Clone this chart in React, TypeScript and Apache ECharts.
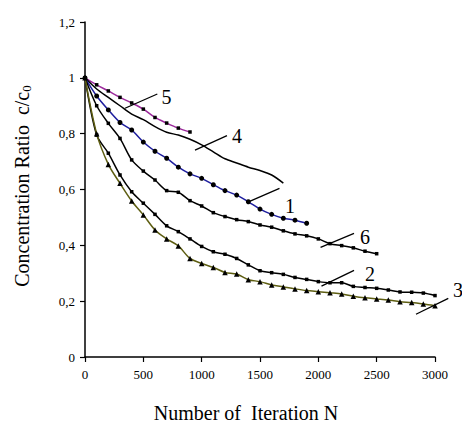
import React, { useEffect, useRef } from "react";
import * as echarts from "echarts";

const ITERATIONS = Array.from({ length: 31 }, (_, i) => i * 100);

const SERIES_1 = [1.0, 0.935, 0.885, 0.84, 0.813, 0.77, 0.737, 0.712, 0.68, 0.656, 0.64, 0.617, 0.596, 0.58, 0.556, 0.53, 0.511, 0.497, 0.49, 0.479];
const SERIES_2 = [1.0, 0.795, 0.73, 0.652, 0.592, 0.551, 0.511, 0.47, 0.449, 0.423, 0.396, 0.377, 0.368, 0.353, 0.33, 0.309, 0.302, 0.296, 0.285, 0.278, 0.27, 0.266, 0.266, 0.253, 0.249, 0.246, 0.24, 0.233, 0.232, 0.229, 0.22];
const SERIES_3 = [1.0, 0.8, 0.69, 0.622, 0.559, 0.509, 0.455, 0.423, 0.398, 0.353, 0.335, 0.321, 0.303, 0.297, 0.277, 0.27, 0.258, 0.251, 0.244, 0.238, 0.234, 0.23, 0.226, 0.218, 0.212, 0.208, 0.204, 0.198, 0.195, 0.19, 0.184];
const SERIES_4 = [1.0, 0.96, 0.93, 0.9, 0.87, 0.85, 0.825, 0.805, 0.795, 0.78, 0.76, 0.735, 0.71, 0.695, 0.68, 0.668, 0.652, 0.623];
const SERIES_5 = [1.0, 0.975, 0.953, 0.93, 0.91, 0.888, 0.858, 0.838, 0.82, 0.806];
const SERIES_6 = [1.0, 0.9, 0.837, 0.783, 0.706, 0.666, 0.634, 0.596, 0.59, 0.56, 0.541, 0.517, 0.503, 0.492, 0.485, 0.473, 0.465, 0.452, 0.441, 0.434, 0.423, 0.406, 0.399, 0.391, 0.379, 0.37];

// curve labels: [label, lineFrom [N, c], lineTo [N, c], textAt [N, c]]
const LABELS: [string, number[], number[], number[]][] = [
  ["5", [343, 0.891], [620, 0.942], [698, 0.93]],
  ["4", [943, 0.741], [1217, 0.793], [1303, 0.792]],
  ["1", [1401, 0.556], [1667, 0.604], [1757, 0.541]],
  ["6", [2019, 0.393], [2306, 0.443], [2400, 0.431]],
  ["2", [2027, 0.254], [2306, 0.31], [2443, 0.296]],
  ["3", [2837, 0.153], [3114, 0.21], [3197, 0.24]],
];

const FONT = "Liberation Serif";

const pairs = (vals: number[]) => vals.map((v, i) => [ITERATIONS[i], v]);

export default function App() {
  const ref = useRef<HTMLDivElement>(null);
  useEffect(() => {
    if (!ref.current) return;
    const chart = echarts.init(ref.current, null, { renderer: "svg" });
    const lineSeries = (
      name: string,
      vals: number[],
      color: string,
      symbol: string,
      size: number,
      show = true
    ) => ({
      name,
      type: "line",
      data: pairs(vals),
      smooth: 0.3,
      showSymbol: show,
      symbol,
      symbolSize: size,
      lineStyle: { color, width: 1.5 },
      itemStyle: { color: "#000" },
      clip: false,
      z: 3,
    });
    chart.setOption({
      animation: false,
      backgroundColor: "#fff",
      textStyle: { fontFamily: FONT },
      grid: { left: 85, right: 27, top: 22, bottom: 66 },
      xAxis: {
        type: "value",
        min: 0,
        max: 3000,
        interval: 500,
        axisLine: { lineStyle: { color: "#000", width: 1.5 } },
        axisTick: { show: true, length: 5, lineStyle: { color: "#000", width: 1.2 } },
        axisLabel: {
          color: "#000",
          fontFamily: FONT,
          fontSize: 13,
          margin: 11,
          formatter: (v: number) => String(v),
        },
        splitLine: { show: false },
      },
      yAxis: {
        type: "value",
        min: 0,
        max: 1.2,
        interval: 0.2,
        axisLine: { show: true, lineStyle: { color: "#000", width: 1.5 } },
        axisTick: { show: true, length: 5, lineStyle: { color: "#000", width: 1.2 } },
        axisLabel: {
          color: "#000",
          fontFamily: FONT,
          fontSize: 13,
          margin: 10,
          formatter: (v: number) => String(Math.round(v * 10) / 10).replace(".", ","),
        },
        splitLine: { show: false },
      },
      series: [
        lineSeries("5", SERIES_5, "#9c2a9c", "rect", 3.5),
        lineSeries("4", SERIES_4, "#000", "rect", 2, false),
        lineSeries("1", SERIES_1, "#1e1e9e", "circle", 5),
        lineSeries("6", SERIES_6, "#000", "rect", 3.5),
        lineSeries("2", SERIES_2, "#000", "rect", 3.5),
        lineSeries("3", SERIES_3, "#5e5e12", "triangle", 5.5),
      ],
    });
    const px = (p: number[]) => chart.convertToPixel({ gridIndex: 0 }, p) as number[];
    const graphics: any[] = [];
    LABELS.forEach(([label, a, b, t]) => {
      const pa = px(a);
      const pb = px(b);
      const pt = px(t);
      graphics.push({
        type: "line",
        shape: { x1: pa[0], y1: pa[1], x2: pb[0], y2: pb[1] },
        style: { stroke: "#000", lineWidth: 1.3 },
        z: 10,
      });
      graphics.push({
        type: "text",
        x: pt[0],
        y: pt[1],
        style: {
          text: label,
          fontFamily: FONT,
          fontSize: 20,
          fill: "#000",
          align: "center",
          verticalAlign: "middle",
        },
        z: 10,
      });
    });
    graphics.push({
      type: "text",
      x: 246,
      y: 413,
      style: {
        text: "Number of  Iteration N",
        fontFamily: FONT,
        fontSize: 20,
        fill: "#000",
        align: "center",
        verticalAlign: "middle",
      },
    });
    graphics.push({
      type: "text",
      x: 22,
      y: 186,
      rotation: Math.PI / 2,
      style: {
        text: "{a|Concentration Ratio  c/c}{s|0}",
        fontFamily: FONT,
        fill: "#000",
        align: "center",
        verticalAlign: "middle",
        rich: {
          a: { fontFamily: FONT, fontSize: 20, fill: "#000", lineHeight: 23 },
          s: { fontFamily: FONT, fontSize: 13, fill: "#000", lineHeight: 23, padding: [9, 0, 0, 0] },
        },
      },
    });
    chart.setOption({ graphic: graphics });
    return () => chart.dispose();
  }, []);
  return (
    <div
      ref={ref}
      style={{ position: "fixed", left: 0, top: 0, width: 462, height: 423, background: "#fff" }}
    />
  );
}
